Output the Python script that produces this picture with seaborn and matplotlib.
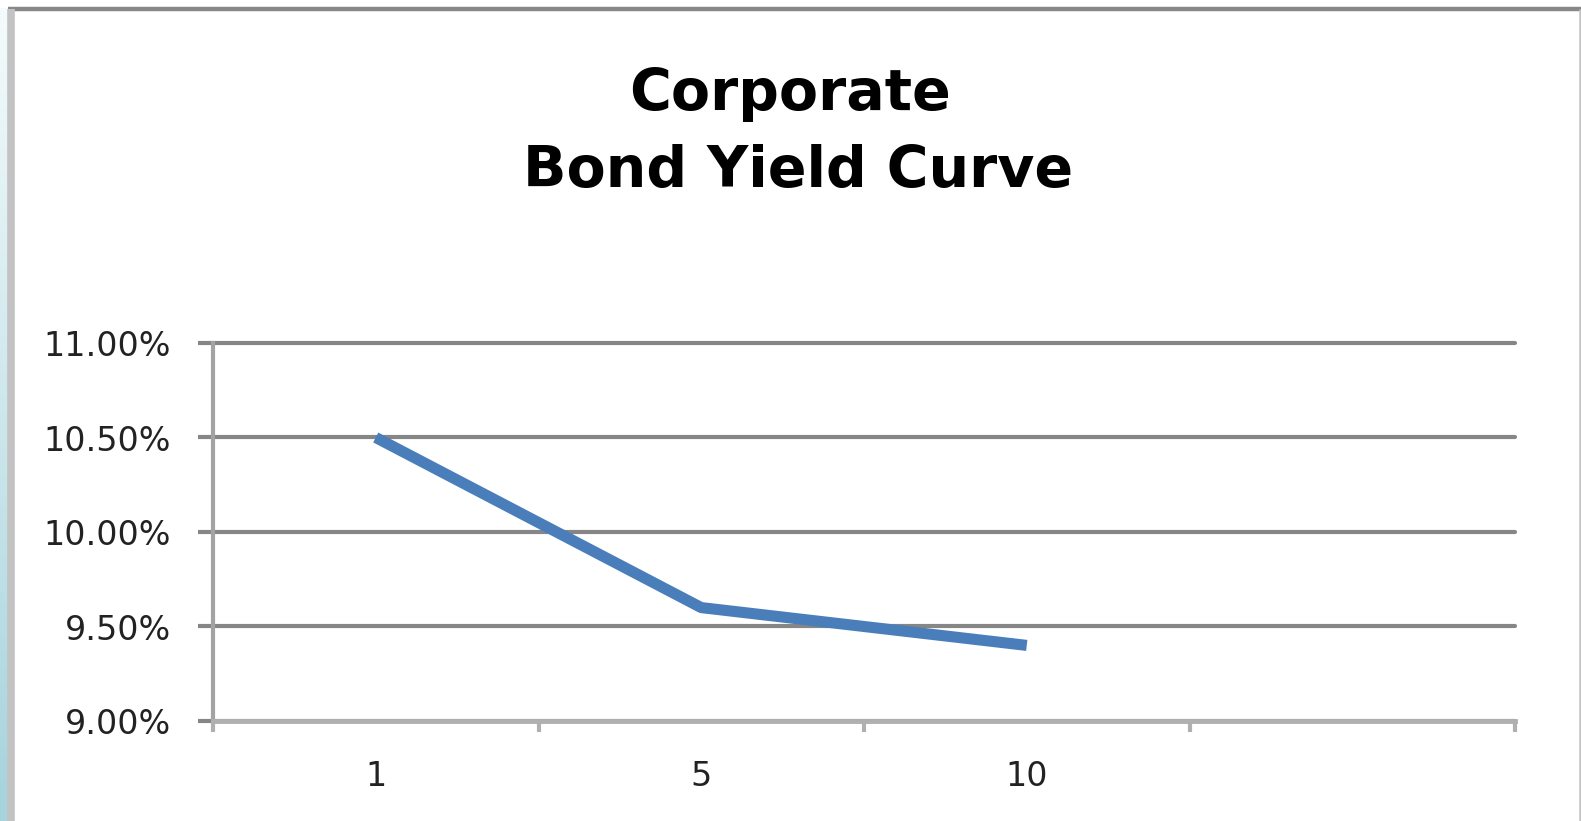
import numpy as np
import pandas as pd
import matplotlib
matplotlib.use("Agg")
import matplotlib.pyplot as plt
import seaborn as sns
from matplotlib.lines import Line2D
from matplotlib.colors import LinearSegmentedColormap

# data
categories = ["1", "5", "10", ""]
yields = [10.50, 9.60, 9.40]
title_lines = ["Corporate", "Bond Yield Curve"]
ytick_vals = [9.0, 9.5, 10.0, 10.5, 11.0]

sns.set_theme(style="white")
plt.rcParams['font.family'] = ['DejaVu Sans']

W, H = 1581, 821
fig = plt.figure(figsize=(W / 100, H / 100), dpi=100)
fig.patch.set_facecolor("white")

# left bluish gradient strip
gax = fig.add_axes([0, 0, 7 / W, 1 - 8 / H])
grad = np.linspace(0, 1, 256).reshape(-1, 1)
cmap = LinearSegmentedColormap.from_list("g", ["#f4fbfc", "#a6d3dc"])
gax.imshow(grad, aspect="auto", cmap=cmap, extent=[0, 1, 0, 1], origin="upper")
gax.axis("off")

# frame
fig.add_artist(Line2D([8 / W, 1], [1 - 9 / H, 1 - 9 / H], transform=fig.transFigure,
                      color="#888888", lw=3.2, solid_capstyle="butt"))
fig.add_artist(Line2D([11 / W, 11 / W], [0, 1 - 9 / H], transform=fig.transFigure,
                      color="#c3c3c3", lw=5.5, solid_capstyle="butt"))
fig.add_artist(Line2D([1579.5 / W, 1579.5 / W], [0, 1 - 9 / H], transform=fig.transFigure,
                      color="#c3c3c3", lw=1.8, solid_capstyle="butt"))

left, right, top, bottom = 213 / W, 1515 / W, 1 - 343 / H, 1 - 721 / H
ax = fig.add_axes([left, bottom, right - left, top - bottom])

df = pd.DataFrame({"x": np.arange(len(yields)), "y": yields})
sns.lineplot(data=df, x="x", y="y", ax=ax, color="#4a7ebb", lw=8,
             solid_capstyle="butt", solid_joinstyle="round")

ax.set_xlim(-0.5, len(categories) - 0.5)
ax.set_ylim(9.0, 11.0)
ax.set_yticks(ytick_vals)
ax.set_yticklabels([f"{v:.2f}%" for v in ytick_vals])
ax.set_xticks(np.arange(len(categories)))
ax.set_xticklabels(categories)
ax.set_xticks(np.arange(len(categories) + 1) - 0.5, minor=True)
ax.set_xlabel("")
ax.set_ylabel("")

ax.grid(axis="y", color="#868686", lw=3)
ax.grid(axis="x", visible=False)
ax.set_axisbelow(True)
for gl in ax.yaxis.get_gridlines():
    gl.set_clip_on(False)

for s in ["top", "right"]:
    ax.spines[s].set_visible(False)
ax.spines["left"].set_color("#a3a3a3")
ax.spines["left"].set_linewidth(3)
ax.spines["bottom"].set_color("#b0b0b0")
ax.spines["bottom"].set_linewidth(3.5)

ax.tick_params(axis="y", which="major", left=True, length=10.5, width=3,
               color="#868686", pad=20, labelsize=24, labelcolor="#222222")
ax.tick_params(axis="x", which="major", bottom=False, length=0, pad=28,
               labelsize=24, labelcolor="#222222")
ax.tick_params(axis="x", which="minor", bottom=True, length=8, width=3,
               color="#b0b0b0")

fig.text(790 / W, 1 - 95 / H, title_lines[0], ha="center", va="center",
         fontsize=41, fontweight="bold", color="black")
fig.text(798 / W, 1 - 172 / H, title_lines[1], ha="center", va="center",
         fontsize=41, fontweight="bold", color="black")

fig.savefig("out.png", dpi=100)
